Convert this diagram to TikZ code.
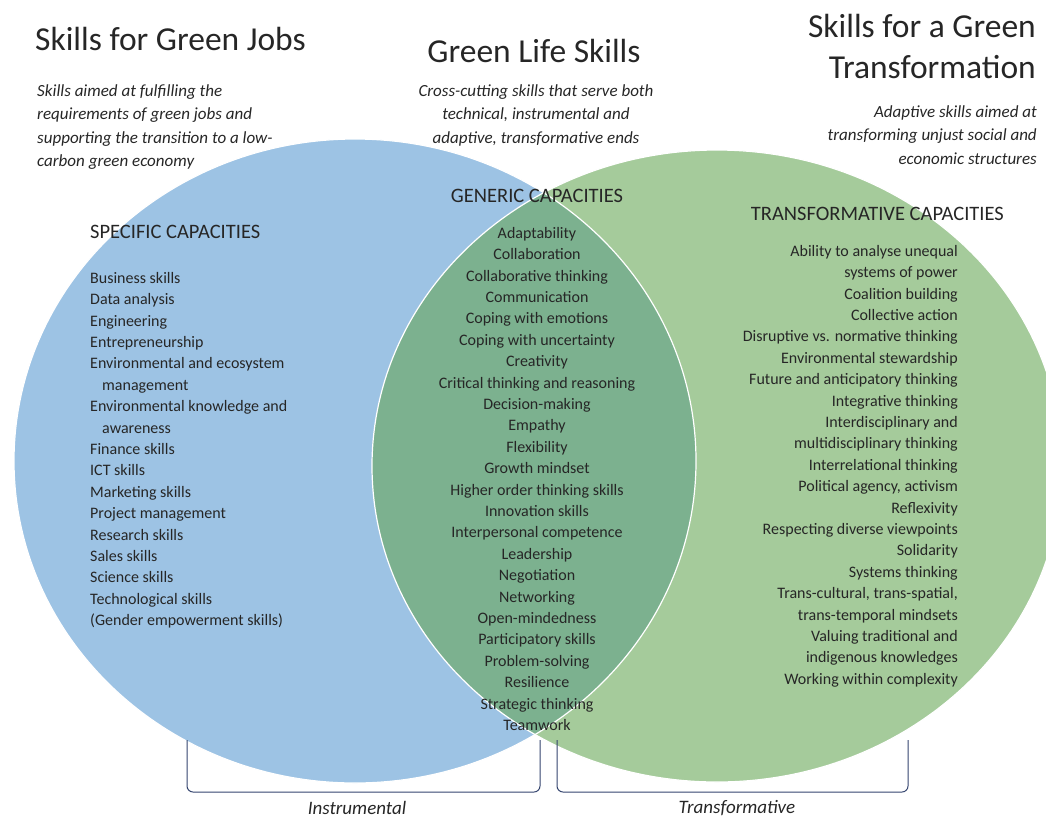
\documentclass[tikz,border=0pt]{standalone}
\usepackage{fontspec}
\setmainfont{Carlito}
\definecolor{skillblue}{RGB}{157,195,228}
\definecolor{skillgreen}{RGB}{165,203,155}
\definecolor{overlapgreen}{RGB}{124,177,143}
\definecolor{inkgray}{RGB}{38,38,38}
\definecolor{bracketnavy}{RGB}{52,68,110}

\begin{document}
\begin{tikzpicture}[x=1pt, y=-1pt,
  titletext/.style={text=inkgray, inner sep=0pt, font=\fontsize{33.5}{41}\selectfont},
  blurbtext/.style={text=inkgray, inner sep=0pt, font=\fontsize{17}{23.5}\selectfont\itshape},
  capheading/.style={text=inkgray, inner sep=0pt, font=\fontsize{20.5}{24}\selectfont},
  skilllist/.style={text=inkgray, inner sep=0pt, font=\fontsize{16}{21.4}\selectfont},
  sidetag/.style={text=inkgray, inner sep=0pt, font=\fontsize{19}{22}\selectfont\itshape},
  bracketline/.style={draw=bracketnavy, line width=1pt, rounded corners=6pt}
]
  \useasboundingbox (0,0) rectangle (1046,820);
  \clip (0,0) rectangle (1046,820);

  \fill[skillblue] (355,461) ellipse [x radius=341, y radius=322];
  \fill[skillgreen] (717,466) ellipse [x radius=345, y radius=316];
  \begin{scope}
    \clip (355,461) ellipse [x radius=341, y radius=322];
    \fill[overlapgreen] (717,466) ellipse [x radius=345, y radius=316];
  \end{scope}
  \draw[white, line width=1.2pt] (355,461) ellipse [x radius=341, y radius=322];
  \draw[white, line width=1.2pt] (717,466) ellipse [x radius=345, y radius=316];

  \node[titletext, anchor=base west] (jobs) at (35,50) {Skills for Green Jobs};
  \node[titletext, anchor=base] (life) at (534,62) {Green Life Skills};
  \node[titletext, anchor=north east, align=right] (transf) at (1036,14) {Skills for a Green\\Transformation};

  \node[blurbtext, anchor=north west, align=left] (jobsblurb) at (37,84)
    {Skills aimed at fulfilling the\\requirements of green jobs and\\supporting the transition to a low-\\carbon green economy};
  \node[blurbtext, anchor=north, align=center] (lifeblurb) at (536,84)
    {Cross-cutting skills that serve both\\technical, instrumental and\\adaptive, transformative ends};
  \node[blurbtext, anchor=north east, align=right] (transfblurb) at (1037,105)
    {Adaptive skills aimed at\\transforming unjust social and\\economic structures};

  \node[capheading, anchor=base west] (specific) at (90,238) {SPECIFIC CAPACITIES};
  \node[capheading, anchor=base] (generic) at (537,202) {GENERIC CAPACITIES};
  \node[capheading, anchor=base east] (transformative) at (1004,220) {TRANSFORMATIVE CAPACITIES};

  \node[skilllist, anchor=north west, align=left] (specificlist) at (90,272)
    {Business skills\\Data analysis\\Engineering\\Entrepreneurship\\
     Environmental and ecosystem\\\hspace*{12pt}management\\
     Environmental knowledge and\\\hspace*{12pt}awareness\\
     Finance skills\\ICT skills\\Marketing skills\\Project management\\
     Research skills\\Sales skills\\Science skills\\Technological skills\\
     (Gender empowerment skills)};
  \node[skilllist, anchor=north, align=center] (genericlist) at (537,227)
    {Adaptability\\Collaboration\\Collaborative thinking\\Communication\\
     Coping with emotions\\Coping with uncertainty\\Creativity\\
     Critical thinking and reasoning\\Decision-making\\Empathy\\Flexibility\\
     Growth mindset\\Higher order thinking skills\\Innovation skills\\
     Interpersonal competence\\Leadership\\Negotiation\\Networking\\
     Open-mindedness\\Participatory skills\\Problem-solving\\Resilience\\
     Strategic thinking\\Teamwork};
  \node[skilllist, anchor=north east, align=right] (transformativelist) at (958,245)
    {Ability to analyse unequal\\systems of power\\Coalition building\\
     Collective action\\Disruptive vs. normative thinking\\
     Environmental stewardship\\Future and anticipatory thinking\\
     Integrative thinking\\Interdisciplinary and\\multidisciplinary thinking\\
     Interrelational thinking\\Political agency, activism\\Reflexivity\\
     Respecting diverse viewpoints\\Solidarity\\Systems thinking\\
     Trans-cultural, trans-spatial,\\trans-temporal mindsets\\
     Valuing traditional and\\indigenous knowledges\\Working within complexity};

  \draw[bracketline] (187,740) -- (187,792) -- (540,792) -- (540,740);
  \draw[bracketline] (557,740) -- (557,792) -- (908,792) -- (908,740);
  \node[sidetag] (instrumental) at (357,808) {Instrumental};
  \node[sidetag] (transformtag) at (737,808) {Transformative};
\end{tikzpicture}
\end{document}
